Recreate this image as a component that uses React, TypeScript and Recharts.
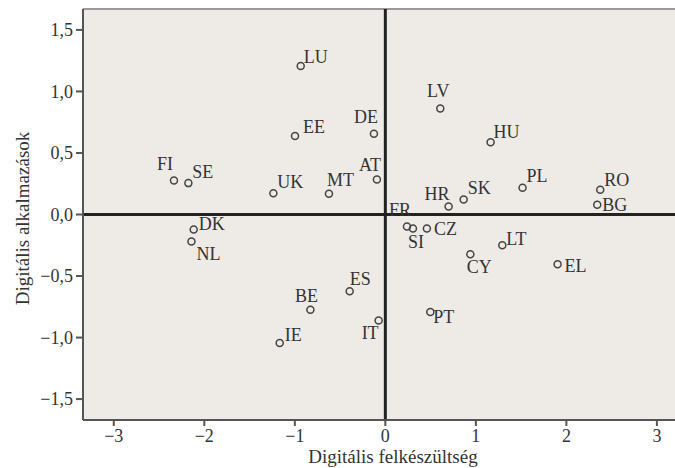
import React from 'react';
import {
  ScatterChart,
  Scatter,
  XAxis,
  YAxis,
  CartesianGrid,
  ReferenceLine,
  Label,
} from 'recharts';

// Country codes
const countries = [
  'LU', 'EE', 'FI', 'SE', 'UK', 'MT', 'DK', 'NL', 'BE', 'IE',
  'LV', 'DE', 'HU', 'AT', 'PL', 'RO', 'BG', 'SK', 'HR', 'FR',
  'SI', 'CZ', 'LT', 'CY', 'EL', 'ES', 'IT', 'PT',
];

// Digitális felkészültség (x)
const readiness = [
  -0.935, -0.998, -2.335, -2.176, -1.237, -0.623, -2.117, -2.142, -0.828, -1.167,
  0.607, -0.126, 1.163, -0.093, 1.516, 2.374, 2.341, 0.865, 0.699, 0.239,
  0.305, 0.459, 1.292, 0.939, 1.903, -0.394, -0.074, 0.497,
];

// Digitális alkalmazások (y)
const applications = [
  1.207, 0.637, 0.277, 0.255, 0.173, 0.168, -0.122, -0.22, -0.775, -1.044,
  0.862, 0.657, 0.588, 0.285, 0.217, 0.201, 0.079, 0.122, 0.065, -0.098,
  -0.114, -0.114, -0.25, -0.323, -0.404, -0.624, -0.862, -0.792,
];

const xTicks = [-3, -2, -1, 0, 1, 2, 3];
const yTicks = [-1.5, -1, -0.5, 0, 0.5, 1, 1.5];

const X_DOMAIN: [number, number] = [-3.34, 3.2];
const Y_DOMAIN: [number, number] = [-1.67, 1.67];

// label placement relative to each marker: [dx, dy, anchor]
const labelPlacement: Record<string, [number, number, 'start' | 'middle' | 'end']> = {
  LU: [3, -9, 'start'],
  EE: [8, -9, 'start'],
  FI: [-1, -16, 'end'],
  SE: [4, -11, 'start'],
  UK: [4, -11, 'start'],
  MT: [-2, -14, 'start'],
  DK: [5, -6, 'start'],
  NL: [5, 12, 'start'],
  BE: [-4, -14, 'middle'],
  IE: [5, -8, 'start'],
  LV: [-2, -17, 'middle'],
  DE: [4, -17, 'end'],
  HU: [3, -10, 'start'],
  AT: [4, -14, 'end'],
  PL: [4, -12, 'start'],
  RO: [4, -10, 'start'],
  BG: [5, 0, 'start'],
  SK: [4, -11, 'start'],
  HR: [1, -13, 'end'],
  FR: [4, -17, 'end'],
  SI: [3, 13, 'middle'],
  CZ: [7, 0, 'start'],
  LT: [4, -6, 'start'],
  CY: [9, 13, 'middle'],
  EL: [7, 2, 'start'],
  ES: [0, -12, 'start'],
  IT: [0, 12, 'end'],
  PT: [3, 5, 'start'],
};

const data = countries.map((name, i) => ({
  name,
  x: readiness[i],
  y: applications[i],
}));

const FONT = '"Liberation Serif", "Times New Roman", serif';
const TEXT = '#333';

const fmtY = (v: number) =>
  (v < 0 ? '\u2212' : '') + Math.abs(v).toFixed(1).replace('.', ',');
const fmtX = (v: number) => (v < 0 ? '\u2212' : '') + Math.abs(v).toString();

const PointShape = (props: any) => {
  const { cx, cy, payload } = props;
  if (cx == null || cy == null) return null;
  const p = labelPlacement[payload.name] || [4, -8, 'start'];
  return (
    <g>
      <circle cx={cx} cy={cy} r={3.5} fill="none" stroke="#444" strokeWidth={1.5} />
      <text
        x={cx + p[0]}
        y={cy + p[1]}
        textAnchor={p[2]}
        dominantBaseline="central"
        fontSize={18}
        fontFamily={FONT}
        fill={TEXT}
      >
        {payload.name}
      </text>
    </g>
  );
};

export default function App() {
  return (
    <div style={{ position: 'absolute', left: 0, top: 0 }}>
      <ScatterChart
        width={675}
        height={468}
        margin={{ top: 9, right: 0, bottom: 0, left: 0 }}
      >
        <CartesianGrid horizontal={false} vertical={false} fill="#EEEBE6" />
        <XAxis
          type="number"
          dataKey="x"
          domain={X_DOMAIN}
          ticks={xTicks}
          allowDataOverflow
          height={48}
          tickSize={6}
          tickMargin={3}
          tickFormatter={fmtX}
          axisLine={{ stroke: '#555', strokeWidth: 2 }}
          tickLine={{ stroke: '#555', strokeWidth: 2 }}
          tick={{ fontSize: 18, fontFamily: FONT, fill: TEXT }}
        >
          <Label
            content={(props: any) => {
              const vb = props.viewBox || { x: 83, y: 420, width: 592, height: 48 };
              return (
                <text
                  x={vb.x + vb.width / 2 + 14}
                  y={vb.y + 43}
                  textAnchor="middle"
                  fontSize={19}
                  fontFamily={FONT}
                  fill={TEXT}
                >
                  Digitális felkészültség
                </text>
              );
            }}
          />
        </XAxis>
        <YAxis
          type="number"
          dataKey="y"
          domain={Y_DOMAIN}
          ticks={yTicks}
          allowDataOverflow
          width={83}
          tickSize={7}
          tickMargin={3}
          tickFormatter={fmtY}
          axisLine={{ stroke: '#555', strokeWidth: 2 }}
          tickLine={{ stroke: '#555', strokeWidth: 2 }}
          tick={{ fontSize: 18, fontFamily: FONT, fill: TEXT }}
        >
          <Label
            content={(props: any) => {
              const vb = props.viewBox || { x: 0, y: 9, width: 83, height: 411 };
              const cx = vb.x + 22;
              const cy = vb.y + vb.height / 2 + 4;
              return (
                <text
                  x={cx}
                  y={cy}
                  transform={`rotate(-90, ${cx}, ${cy})`}
                  textAnchor="middle"
                  dominantBaseline="central"
                  fontSize={19}
                  fontFamily={FONT}
                  fill={TEXT}
                >
                  Digitális alkalmazások
                </text>
              );
            }}
          />
        </YAxis>
        <ReferenceLine y={Y_DOMAIN[1]} stroke="#999" strokeWidth={2} />
        <ReferenceLine y={0} stroke="#222" strokeWidth={3} />
        <ReferenceLine x={0} stroke="#222" strokeWidth={3} />
        <Scatter data={data} isAnimationActive={false} shape={PointShape} />
      </ScatterChart>
    </div>
  );
}
